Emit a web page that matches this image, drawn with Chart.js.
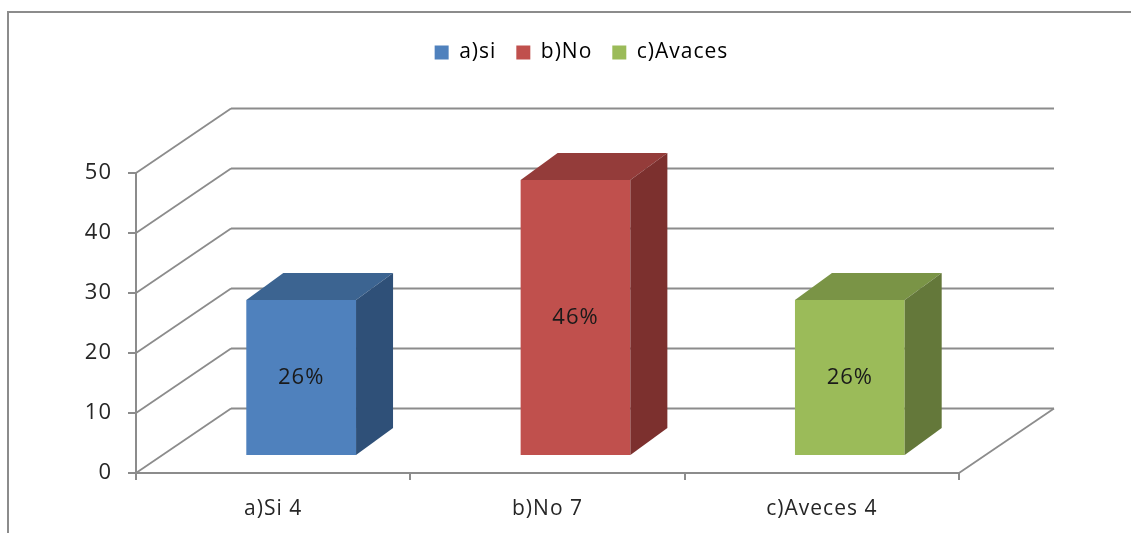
<!DOCTYPE html>
<html>
<head>
<meta charset="utf-8">
<title>Grafica</title>
<script src="https://cdn.jsdelivr.net/npm/chart.js@4"></script>
<style>
    html, body { margin: 0; padding: 0; background: #fff; overflow: hidden; }
    #wrap { position: relative; width: 1131px; height: 533px; }
</style>
</head>
<body>
<div id="wrap"><canvas id="grafica"></canvas></div>
<script>
const categorias = ['a)Si 4', 'b)No 7', 'c)Aveces 4'];
const leyenda = ['a)si', 'b)No', 'c)Avaces'];
const valores = [26, 46, 26];
const etiquetas = ['26%', '46%', '26%'];
const colores = ['#4F81BD', '#C0504D', '#9BBB59'];
const coloresArriba = ['#3C6491', '#943C3A', '#7A9446'];
const coloresLado = ['#2F5078', '#7C302E', '#64783A'];

const gris = '#8C8C8C';
const fuente = '"Open Sans", sans-serif';

// the 3D look: wall depth and how far the bars sit inside the floor
const fondoX = 95, fondoY = -64.5;
const barraX = 28, barraY = -17;
const ladoX = 37, ladoY = -27;

function linea(ctx, x1, y1, x2, y2) {
    ctx.beginPath();
    ctx.moveTo(x1, y1);
    ctx.lineTo(x2, y2);
    ctx.stroke();
}

function cara(ctx, puntos, color) {
    ctx.fillStyle = color;
    ctx.beginPath();
    puntos.forEach((p, i) => i ? ctx.lineTo(p[0], p[1]) : ctx.moveTo(p[0], p[1]));
    ctx.closePath();
    ctx.fill();
}

const plugin3d = {
    id: 'plugin3d',
    // the original text is wider than any installed font
    beforeLayout(chart) {
        chart.ctx.letterSpacing = '1px';
    },
    afterLayout(chart) {
        // legend is centred over the plot, not over the canvas
        const l = chart.legend;
        l.left += 97;
        l.right += 97;
        l.top -= 100;
        l.bottom -= 100;
    },
    beforeDraw(chart) {
        const ctx = chart.ctx;
        ctx.letterSpacing = '1px';
        ctx.save();
        ctx.strokeStyle = gris;
        ctx.lineWidth = 2;
        linea(ctx, 8, 533, 8, 12);
        linea(ctx, 7, 12, 1131, 12);
        ctx.restore();
    },
    beforeDatasetsDraw(chart) {
        const ctx = chart.ctx;
        const y = chart.scales.y;
        const izq = chart.chartArea.left, der = chart.chartArea.right;
        ctx.save();
        ctx.strokeStyle = gris;
        ctx.lineWidth = 1.8;
        y.ticks.forEach(t => {
            const py = y.getPixelForValue(t.value);
            linea(ctx, izq, py, izq + fondoX, py + fondoY);
            linea(ctx, izq + fondoX, py + fondoY, der + fondoX, py + fondoY);
        });
        const cero = y.getPixelForValue(0);
        linea(ctx, der, cero, der + fondoX, cero + fondoY);
        ctx.restore();
        ctx.save();
        ctx.translate(barraX, barraY);
    },
    afterDatasetsDraw(chart) {
        const ctx = chart.ctx;
        const barras = chart.getDatasetMeta(0).data;
        barras.forEach((b, i) => {
            const izq = b.x - b.width / 2, der = b.x + b.width / 2;
            cara(ctx, [[izq, b.y], [der, b.y], [der + ladoX, b.y + ladoY], [izq + ladoX, b.y + ladoY]], coloresArriba[i]);
            cara(ctx, [[der, b.y], [der + ladoX, b.y + ladoY], [der + ladoX, b.base + ladoY], [der, b.base]], coloresLado[i]);
        });
        ctx.fillStyle = '#1a1a1a';
        ctx.font = '22px ' + fuente;
        ctx.textAlign = 'center';
        ctx.textBaseline = 'middle';
        barras.forEach((b, i) => {
            ctx.fillText(etiquetas[i], b.x, (b.y + b.base) / 2);
        });
        ctx.restore();
    }
};

new Chart(document.getElementById('grafica'), {
    type: 'bar',
    data: {
        labels: categorias,
        datasets: [{
            label: 'Serie',
            data: valores,
            backgroundColor: colores,
            clip: false,
            barPercentage: 1,
            categoryPercentage: 0.4
        }]
    },
    options: {
        responsive: true,
        maintainAspectRatio: false,
        animation: false,
        layout: { padding: { top: 122, right: 172, bottom: 8, left: 10 } },
        plugins: {
            tooltip: { enabled: false },
            legend: {
                position: 'top',
                align: 'center',
                onClick: null,
                labels: {
                    boxWidth: 14,
                    boxHeight: 14,
                    padding: 20,
                    color: '#262626',
                    font: { size: 21, family: fuente },
                    generateLabels: () => leyenda.map((texto, i) => ({
                        text: texto,
                        fillStyle: colores[i],
                        strokeStyle: colores[i],
                        lineWidth: 0,
                        index: i
                    }))
                }
            }
        },
        scales: {
            x: {
                grid: { drawOnChartArea: false, color: gris, lineWidth: 2, tickLength: 7, offset: true },
                border: { color: gris, width: 2 },
                ticks: { color: '#262626', padding: 16, maxRotation: 0, font: { size: 21, family: fuente } },
                afterFit(scale) { scale.height = 52; }
            },
            y: {
                min: 0,
                max: 50,
                grid: { drawOnChartArea: false, color: gris, lineWidth: 2, tickLength: 8 },
                border: { color: gris, width: 2 },
                ticks: { stepSize: 10, color: '#262626', padding: 16, font: { size: 22, family: fuente } },
                afterFit(scale) { scale.width = 126; }
            }
        }
    },
    plugins: [plugin3d]
});
</script>
</body>
</html>
